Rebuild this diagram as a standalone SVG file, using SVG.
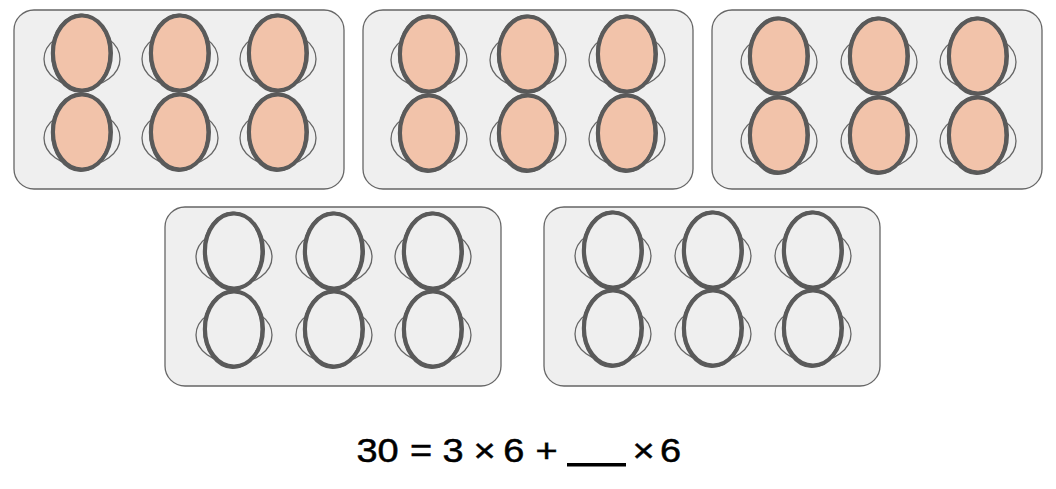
<svg xmlns="http://www.w3.org/2000/svg" xmlns:xlink="http://www.w3.org/1999/xlink" width="1056" height="489" viewBox="0 0 1056 489">
<style>
.box{fill:#efefef;stroke:#666666;stroke-width:1.3}
.cup{fill:none;stroke:#666666;stroke-width:1.3}
.shell{stroke:#5a5a5a;stroke-width:4}
.rough{fill:none;stroke:#5a5a5a;stroke-width:2.4}
.full{fill:#f2c3aa}
.empty{fill:#efefef}
.eq{font-family:"Liberation Sans",Arial,sans-serif;font-size:33px;fill:#000000;stroke:#000000;stroke-width:0.5}
</style>
<defs>
<g id="egg-full">
<ellipse class="cup" cx="0" cy="6" rx="38" ry="28"/>
<ellipse class="shell full" cx="0" cy="0" rx="29" ry="37.5"/>
<ellipse class="rough" cx="-1.2" cy="0.3" rx="28.8" ry="38.5"/>
</g>
<g id="egg-empty">
<ellipse class="cup" cx="0" cy="6" rx="38" ry="28"/>
<ellipse class="shell empty" cx="0" cy="0" rx="29" ry="37.5"/>
<ellipse class="rough" cx="-1.2" cy="0.3" rx="28.8" ry="38.5"/>
</g>
</defs>
<g id="box1">
<rect class="box" x="14" y="10" width="330" height="179" rx="20"/>
<use xlink:href="#egg-full" x="82" y="53"/>
<use xlink:href="#egg-full" x="180" y="53"/>
<use xlink:href="#egg-full" x="278" y="53"/>
<use xlink:href="#egg-full" x="82" y="132"/>
<use xlink:href="#egg-full" x="180" y="132"/>
<use xlink:href="#egg-full" x="278" y="132"/>
</g>
<g id="box2">
<rect class="box" x="363" y="10" width="330" height="179" rx="20"/>
<use xlink:href="#egg-full" x="429" y="54"/>
<use xlink:href="#egg-full" x="528" y="54"/>
<use xlink:href="#egg-full" x="627" y="54"/>
<use xlink:href="#egg-full" x="429" y="133"/>
<use xlink:href="#egg-full" x="528" y="133"/>
<use xlink:href="#egg-full" x="627" y="133"/>
</g>
<g id="box3">
<rect class="box" x="712" y="10" width="330" height="179" rx="20"/>
<use xlink:href="#egg-full" x="779" y="56"/>
<use xlink:href="#egg-full" x="879" y="56"/>
<use xlink:href="#egg-full" x="978" y="56"/>
<use xlink:href="#egg-full" x="779" y="135"/>
<use xlink:href="#egg-full" x="879" y="135"/>
<use xlink:href="#egg-full" x="978" y="135"/>
</g>
<g id="box4">
<rect class="box" x="165" y="207" width="336" height="179" rx="20"/>
<use xlink:href="#egg-empty" x="234" y="251"/>
<use xlink:href="#egg-empty" x="334" y="251"/>
<use xlink:href="#egg-empty" x="433" y="251"/>
<use xlink:href="#egg-empty" x="234" y="329"/>
<use xlink:href="#egg-empty" x="334" y="329"/>
<use xlink:href="#egg-empty" x="433" y="329"/>
</g>
<g id="box5">
<rect class="box" x="544" y="207" width="336" height="179" rx="20"/>
<use xlink:href="#egg-empty" x="613" y="250"/>
<use xlink:href="#egg-empty" x="713" y="250"/>
<use xlink:href="#egg-empty" x="813" y="250"/>
<use xlink:href="#egg-empty" x="613" y="328"/>
<use xlink:href="#egg-empty" x="713" y="328"/>
<use xlink:href="#egg-empty" x="813" y="328"/>
</g>
<g id="connectors"/>
<g id="equation">
<text class="eq" y="462" transform="scale(1.15,1)"><tspan x="310">30</tspan> <tspan x="356.5">=</tspan> <tspan x="384.7">3</tspan> <tspan x="411.7">×</tspan> <tspan x="437.7">6</tspan> <tspan x="465.7">+</tspan></text>
<rect x="567" y="463" width="59" height="3.5" fill="#000000"/>
<text class="eq" y="462" transform="scale(1.15,1)"><tspan x="550">×</tspan> <tspan x="573.9">6</tspan></text>
</g>
</svg>
